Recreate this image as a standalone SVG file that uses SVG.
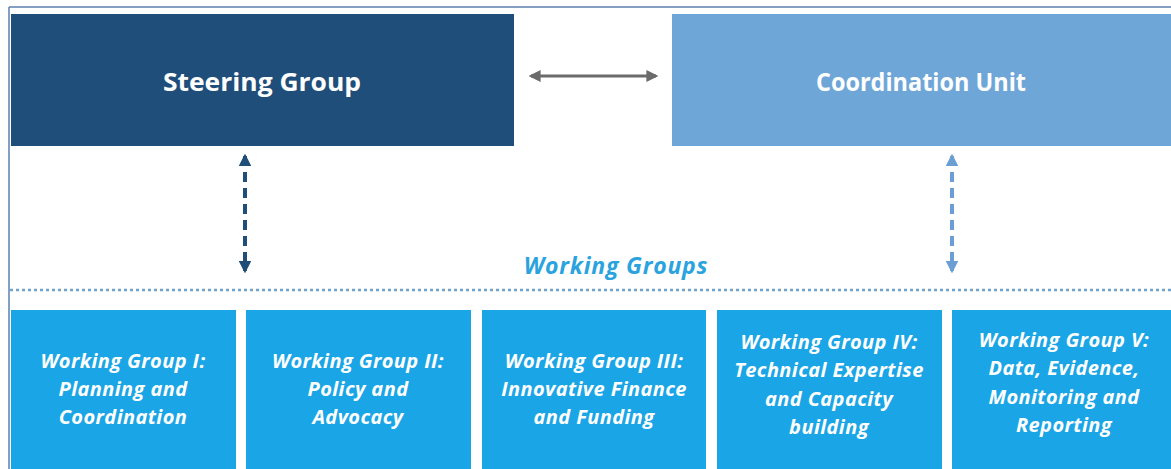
<svg xmlns="http://www.w3.org/2000/svg" width="1171" height="469" viewBox="0 0 1171 469">
<defs>
<style>
.title{font-family:"Open Sans","Liberation Sans",sans-serif;font-weight:bold;font-size:25px;fill:#ffffff;text-anchor:middle}
.wg{font-family:"Open Sans","Liberation Sans",sans-serif;font-weight:bold;font-style:italic;font-size:20px;letter-spacing:0.4px;fill:#ffffff;text-anchor:middle}
.wgbox{fill:#1aa5e6}
.wglabel{font-family:"Open Sans","Liberation Sans",sans-serif;font-weight:bold;font-style:italic;font-size:23px;letter-spacing:0.8px;fill:#2aa3de;text-anchor:middle}
</style>
<marker id="ahGray" markerWidth="4" markerHeight="4" refX="3.2" refY="2" orient="auto-start-reverse" markerUnits="strokeWidth">
<path d="M0,0 L4,2 L0,4 Z" fill="#6b6b6b"/>
</marker>
<marker id="ahNavy" markerWidth="3.2" markerHeight="3.2" refX="2.6" refY="1.6" orient="auto-start-reverse" markerUnits="strokeWidth">
<path d="M0,0 L3.2,1.6 L0,3.2 Z" fill="#1f4e79"/>
</marker>
<marker id="ahLight" markerWidth="3.2" markerHeight="3.2" refX="2.6" refY="1.6" orient="auto-start-reverse" markerUnits="strokeWidth">
<path d="M0,0 L3.2,1.6 L0,3.2 Z" fill="#6b9fd3"/>
</marker>
</defs>
<rect x="0" y="0" width="1171" height="469" fill="#ffffff"/>
<g id="frame">
<line x1="9" y1="7" x2="1171" y2="7" stroke="#5b7fae" stroke-width="1.5"/>
<line x1="9" y1="7" x2="9" y2="469" stroke="#5b7fae" stroke-width="1.5"/>
</g>
<g id="steering-group">
<rect x="11" y="14" width="503" height="132" fill="#1f4e7a"/>
<text class="title" x="262" y="91" textLength="198" lengthAdjust="spacingAndGlyphs">Steering Group</text>
</g>
<g id="coordination-unit">
<rect x="672" y="14" width="499" height="132" fill="#6fa6d8"/>
<text class="title" x="921" y="91" textLength="210" lengthAdjust="spacingAndGlyphs">Coordination Unit</text>
</g>
<g id="working-groups-label">
<text class="wglabel" x="616" y="274">Working Groups</text>
</g>
<g id="connectors">
<line x1="531" y1="76" x2="656" y2="76" stroke="#6b6b6b" stroke-width="3" marker-start="url(#ahGray)" marker-end="url(#ahGray)"/>
<line x1="245" y1="156" x2="245" y2="271" stroke="#1f4e79" stroke-width="4" stroke-dasharray="10 6" marker-start="url(#ahNavy)" marker-end="url(#ahNavy)"/>
<line x1="952" y1="156" x2="952" y2="271" stroke="#6b9fd3" stroke-width="4" stroke-dasharray="10 6" marker-start="url(#ahLight)" marker-end="url(#ahLight)"/>
<line x1="10" y1="290" x2="1171" y2="290" stroke="#6fa2cc" stroke-width="2.5" stroke-dasharray="3 3"/>
</g>
<g id="wg1">
<rect class="wgbox" x="11" y="310" width="225" height="159"/>
<text class="wg" x="123" y="368">Working Group I:</text>
<text class="wg" x="123" y="396">Planning and</text>
<text class="wg" x="123" y="424">Coordination</text>
</g>
<g id="wg2">
<rect class="wgbox" x="246" y="310" width="225" height="159"/>
<text class="wg" x="358" y="368">Working Group II:</text>
<text class="wg" x="358" y="396">Policy and</text>
<text class="wg" x="358" y="424">Advocacy</text>
</g>
<g id="wg3">
<rect class="wgbox" x="482" y="310" width="224" height="159"/>
<text class="wg" x="594" y="368">Working Group III:</text>
<text class="wg" x="594" y="396">Innovative Finance</text>
<text class="wg" x="594" y="424">and Funding</text>
</g>
<g id="wg4">
<rect class="wgbox" x="717" y="310" width="225" height="159"/>
<text class="wg" x="829" y="349">Working Group IV:</text>
<text class="wg" x="829" y="377">Technical Expertise</text>
<text class="wg" x="829" y="406">and Capacity</text>
<text class="wg" x="829" y="434">building</text>
</g>
<g id="wg5">
<rect class="wgbox" x="952" y="310" width="219" height="159"/>
<text class="wg" x="1064" y="347">Working Group V:</text>
<text class="wg" x="1064" y="375">Data, Evidence,</text>
<text class="wg" x="1064" y="404">Monitoring and</text>
<text class="wg" x="1064" y="432">Reporting</text>
</g>
</svg>
